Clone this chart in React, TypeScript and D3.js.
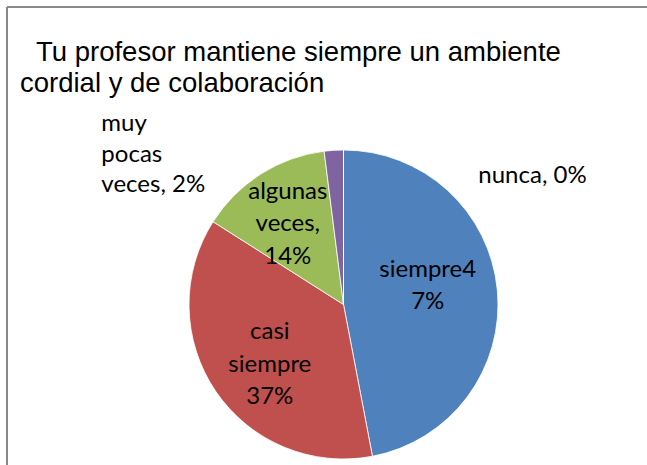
import React from "react";
import * as d3 from "d3";

const categories = ["siempre", "casi siempre", "algunas veces", "muy pocas veces", "nunca"];
const values = [47, 37, 14, 2, 0];
const labelLines = [
  ["siempre4", "7%"],
  ["casi", "siempre", "37%"],
  ["algunas", "veces,", "14%"],
  ["muy", "pocas", "veces, 2%"],
  ["nunca, 0%"],
];
const colors = ["#4F81BD", "#C0504D", "#9BBB59", "#8064A2", "#4BACC6"];
const titleLines = ["Tu profesor mantiene siempre un ambiente", "cordial y de colaboración"];

const W = 647;
const H = 465;
const cx = 343.5;
const cy = 304.5;
const R = 154.5;
const labelFont = "Lato, 'Open Sans', sans-serif";
const labelSize = 24;
const lineH = 32.5;

export default function App() {
  const pie = d3.pie<number>().value((d) => d).sort(null)(values);
  const arc = d3.arc<d3.PieArcDatum<number>>().innerRadius(0).outerRadius(R);
  const labelArc = d3.arc<d3.PieArcDatum<number>>().innerRadius(R * 0.6).outerRadius(R * 0.6);
  const outer = d3.arc<d3.PieArcDatum<number>>().innerRadius(R * 1.25).outerRadius(R * 1.25);

  // layout shifts (pixels) applied to computed label anchors
  const insideShift = [
    { dx: -8, dy: -13 },
    { dx: 3, dy: 5 },
    { dx: -6, dy: -5 },
  ];

  return (
    <svg
      width={W}
      height={H}
      style={{ position: "absolute", left: 0, top: 0, background: "#fff" }}
    >
      <rect x={0} y={0} width={W} height={H} fill="#fff" />
      <line x1={7} y1={7} x2={W} y2={7} stroke="#898989" strokeWidth={2} />
      <line x1={7} y1={7} x2={7} y2={H} stroke="#898989" strokeWidth={2} />
      <g fontFamily="'Liberation Sans', Arial, sans-serif" fontSize={27.5} fill="#000">
        <text x={36} y={61}>{titleLines[0]}</text>
        <text x={20} y={92}>{titleLines[1]}</text>
      </g>
      <g transform={`translate(${cx},${cy})`}>
        {pie.map((p, i) => (
          <path key={categories[i]} d={arc(p) || ""} fill={colors[i]} stroke="#fff" strokeWidth={0.8} />
        ))}
      </g>
      <g fontFamily={labelFont} fontSize={labelSize} fill="#000">
        {pie.slice(0, 3).map((p, i) => {
          const [lx, ly] = labelArc.centroid(p);
          const lines = labelLines[i];
          const x = cx + lx + insideShift[i].dx;
          const y0 = cy + ly + insideShift[i].dy - ((lines.length - 1) * lineH) / 2;
          return (
            <text key={i} textAnchor="middle" x={x} y={y0} dominantBaseline="central">
              {lines.map((l, j) => (
                <tspan key={j} x={x} y={y0 + j * lineH}>{l}</tspan>
              ))}
            </text>
          );
        })}
        {(() => {
          const p = pie[3];
          const [ox, oy] = outer.centroid(p);
          const x = cx + ox - 230;
          const y = cy + oy + 50;
          return (
            <text x={x} y={y}>
              {labelLines[3].map((l, j) => (
                <tspan key={j} x={x} y={y + (j - 1) * 30.5}>{l}</tspan>
              ))}
            </text>
          );
        })()}
        {(() => {
          const p = pie[4];
          const [ox, oy] = outer.centroid(p);
          const x = cx + ox + 189;
          const y = cy + oy + 72;
          return <text x={x} y={y} textAnchor="middle">{labelLines[4][0]}</text>;
        })()}
      </g>
    </svg>
  );
}
